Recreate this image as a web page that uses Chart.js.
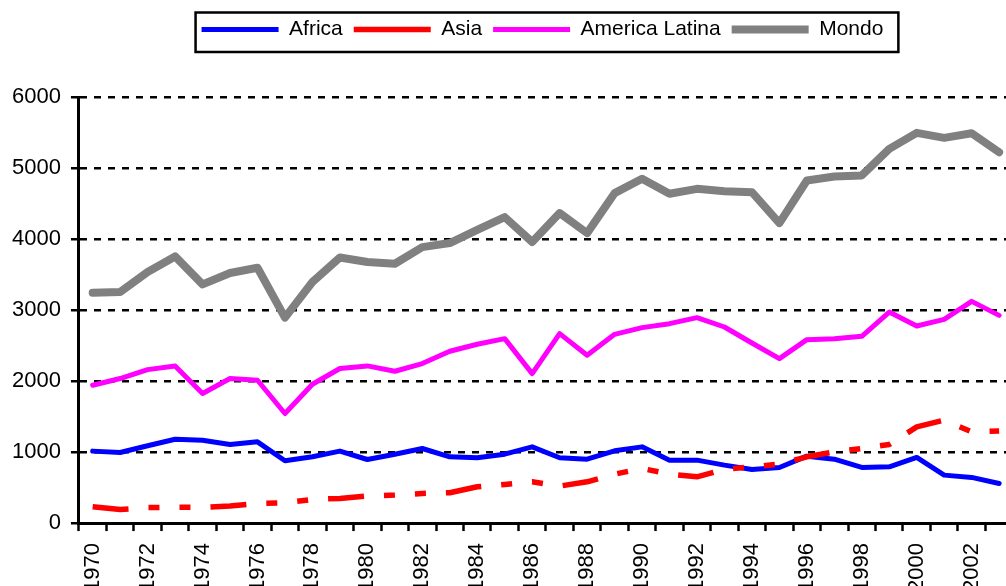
<!DOCTYPE html>
<html><head><meta charset="utf-8">
<script src="https://cdn.jsdelivr.net/npm/chart.js@4.4.1/dist/chart.umd.min.js"></script>
<style>html,body{margin:0;padding:0;background:#fff;overflow:hidden}#wrap{width:1006px;height:586px;position:relative}</style>
</head><body><div id="wrap"><canvas id="c"></canvas></div>
<script>
const years = [1970,1971,1972,1973,1974,1975,1976,1977,1978,1979,1980,1981,1982,1983,1984,1985,1986,1987,1988,1989,1990,1991,1992,1993,1994,1995,1996,1997,1998,1999,2000,2001,2002,2003];
const africa = [1013,994,1088,1181,1167,1107,1144,877,933,1013, 895,970,1050,933,919,970,1073,919,900,1017, 1073,886,886,816,755,783,942,900,783,792, 924,675,643,558];
const asia = [229,190,218,221,221,241,277,286,333,347, 380,394,417,427,511,544,581,520,581,689, 769,690,651,755,792,830,933,1003,1050,1107, 1354,1449,1284,1298];
const americaLatina = [1941,2035,2161,2213,1824,2035,2011,1543,1955,2176, 2213,2138,2246,2419,2518,2597,2105,2668,2363,2658, 2752,2808,2893,2761,2536,2316,2583,2597,2630,2972, 2775,2869,3122,2925];
const mondo = [3245,3253,3535,3755,3361,3521,3596,2893,3394,3740, 3676,3652,3886,3943,4130,4308,3957,4365,4083,4646, 4848,4637,4707,4674,4660,4224,4824,4880,4895,5270, 5495,5425,5489,5222];
const seriesNames = ['Africa', 'Asia', 'America Latina', 'Mondo'];
const yTicks = [0, 1000, 2000, 3000, 4000, 5000, 6000];

const FONT = "'Liberation Sans', Arial, Helvetica, sans-serif";
Chart.defaults.font.family = FONT;
Chart.defaults.color = '#000';

const xMin = years[0] - 0.5;
const xMax = 2003.25;

function ds(label, vals, color, width, dash, cap, order) {
  return {
    label: label,
    data: years.map((y, i) => ({x: y, y: vals[i]})),
    borderColor: color, backgroundColor: color,
    borderWidth: width, borderDash: dash, borderCapStyle: cap, borderJoinStyle: 'round',
    pointRadius: 0, pointHoverRadius: 0, tension: 0, fill: false, order: order
  };
}

const legendFrame = {
  id: 'legendFrame',
  afterInit(chart) {
    const lg = chart.legend;
    const fit = lg.fit;
    lg.fit = function () { fit.call(this); this.height = 89; };
  },
  afterLayout(chart) {
    const lg = chart.legend, a = chart.chartArea;
    lg.left = a.left; lg.right = a.right; lg.width = a.right - a.left;
  },
  afterDraw(chart) {
    const lg = chart.legend, ctx = chart.ctx;
    const pad = lg.options.labels.padding;
    const lw = lg.lineWidths[0];
    const start = (lg.left + pad + lg.right - lw) / 2;
    const end = start + lw - pad;
    ctx.save();
    ctx.strokeStyle = '#000';
    ctx.lineWidth = 2.5;
    ctx.strokeRect(start - 6, lg.top + 4.5, end - start + 21, 39.5);
    ctx.restore();
  }
};

new Chart(document.getElementById('c'), {
  type: 'line',
  data: {
    datasets: [
      ds(seriesNames[0], africa, '#0000FF', 5, [], 'round', 1),
      ds(seriesNames[1], asia, '#FF0000', 5.5, [36, 20, 11, 20, 11, 20], 'butt', 0),
      ds(seriesNames[2], americaLatina, '#FF00FF', 5, [], 'round', 2),
      ds(seriesNames[3], mondo, '#808080', 8, [], 'round', 3)
    ]
  },
  options: {
    responsive: true, maintainAspectRatio: false, animation: false,
    layout: {padding: {top: 8, left: 2, right: 0, bottom: -18}},
    plugins: {
      tooltip: {enabled: false},
      legend: {
        position: 'top', align: 'center',
        labels: {
          usePointStyle: true, pointStyle: 'line', pointStyleWidth: 77,
          padding: 11, color: '#000',
          font: {size: 21, family: FONT},
          sort: (a, b) => a.datasetIndex - b.datasetIndex
        }
      }
    },
    scales: {
      x: {
        type: 'linear', min: xMin, max: xMax,
        afterBuildTicks: (scale) => {
          scale.ticks = years.filter(y => y + 0.5 <= xMax).map(y => ({value: y}));
        },
        afterFit: (scale) => { scale.paddingLeft = 0; scale.paddingRight = 0; },
        ticks: {
          autoSkip: false, minRotation: 90, maxRotation: 90, padding: 12,
          font: {size: 22, family: FONT}, color: '#000',
          callback: (v) => (v % 2 === 0 ? String(v) : '')
        },
        grid: {display: true, offset: true, drawOnChartArea: false, drawTicks: true, tickLength: 8, tickColor: '#000', tickWidth: 2.5, color: '#000'},
        border: {display: true, color: '#000', width: 3}
      },
      y: {
        min: yTicks[0], max: yTicks[yTicks.length - 1],
        afterBuildTicks: (scale) => { scale.ticks = yTicks.map(v => ({value: v})); },
        ticks: {padding: 10, font: {size: 22, family: FONT}, color: '#000', callback: (v) => String(v)},
        grid: {color: '#000', lineWidth: 2.5, tickLength: 8, tickColor: '#000', tickWidth: 2.5},
        border: {display: true, color: '#000', width: 3, dash: [7, 7]}
      }
    }
  },
  plugins: [legendFrame]
});
</script>
</body></html>
